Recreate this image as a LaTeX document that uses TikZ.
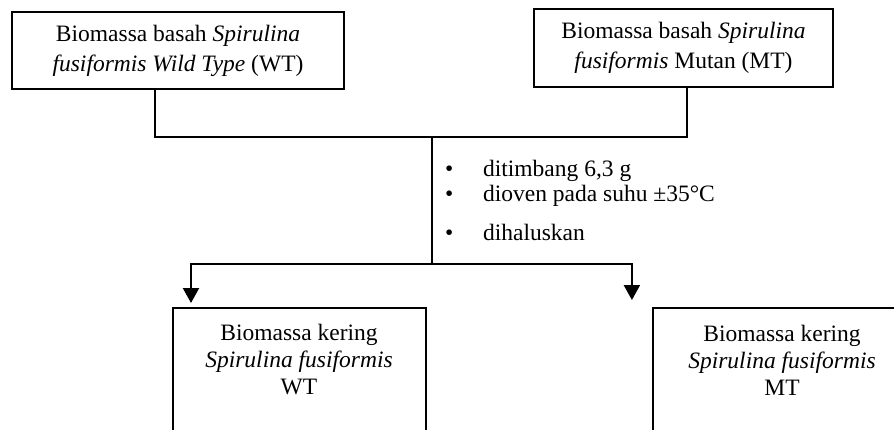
\documentclass[tikz,border=0pt]{standalone}
\usepackage{fontspec}
\setmainfont{Liberation Serif}
\usetikzlibrary{arrows.meta}
\begin{document}
\begin{tikzpicture}[x=1pt,y=-1pt,
  line width=2.2pt,
  boxstyle/.style={draw, line width=2.2pt, inner sep=0pt, align=center, font=\fontsize{23.5}{30}\selectfont},
  txt/.style={inner sep=0pt, align=center, font=\fontsize{23.5}{27}\selectfont},
  arr/.style={-{Triangle[width=16pt,length=15pt]}}]
\useasboundingbox (0,0) rectangle (894,429);
\clip (0,0) rectangle (894,429);
\node[boxstyle, minimum width=332pt, minimum height=77pt] (wt) at (178,50.5) {Biomassa basah \textit{Spirulina}\\\textit{fusiformis Wild Type} (WT)};
\node[boxstyle, minimum width=299pt, minimum height=78pt] (mt) at (683.5,48) {Biomassa basah \textit{Spirulina}\\\textit{fusiformis} Mutan (MT)};
\node[boxstyle, minimum width=253pt, minimum height=160pt, anchor=north] (bwt) at (299.5,307) {};
\node[boxstyle, minimum width=258pt, minimum height=160pt, anchor=north] (bmt) at (782,307) {};
\node[txt] (bwtt) at (299,360) {Biomassa kering\\\textit{Spirulina fusiformis}\\WT};
\node[txt] (bmtt) at (782,360) {Biomassa kering\\\textit{Spirulina fusiformis}\\MT};
\node[txt, anchor=west] (s1) at (444,171) {\makebox[38pt][l]{•}ditimbang 6,3 g};
\node[txt, anchor=west] (s2) at (444,196) {\makebox[38pt][l]{•}dioven pada suhu ±35°C};
\node[txt, anchor=west] (s3) at (444,232) {\makebox[38pt][l]{•}dihaluskan};
\coordinate (j1) at (432,137);
\coordinate (j2) at (432,264);
\draw ([xshift=-23pt]wt.south) |- (j1) -| ([xshift=3.5pt]mt.south);
\draw (j1) -- (j2);
\draw[arr, shorten >=4pt] (j2) -| ([xshift=-108.5pt]bwt.north);
\draw[arr, shorten >=7pt] (j2) -| ([xshift=-20pt]bmt.north west);
\end{tikzpicture}
\end{document}
